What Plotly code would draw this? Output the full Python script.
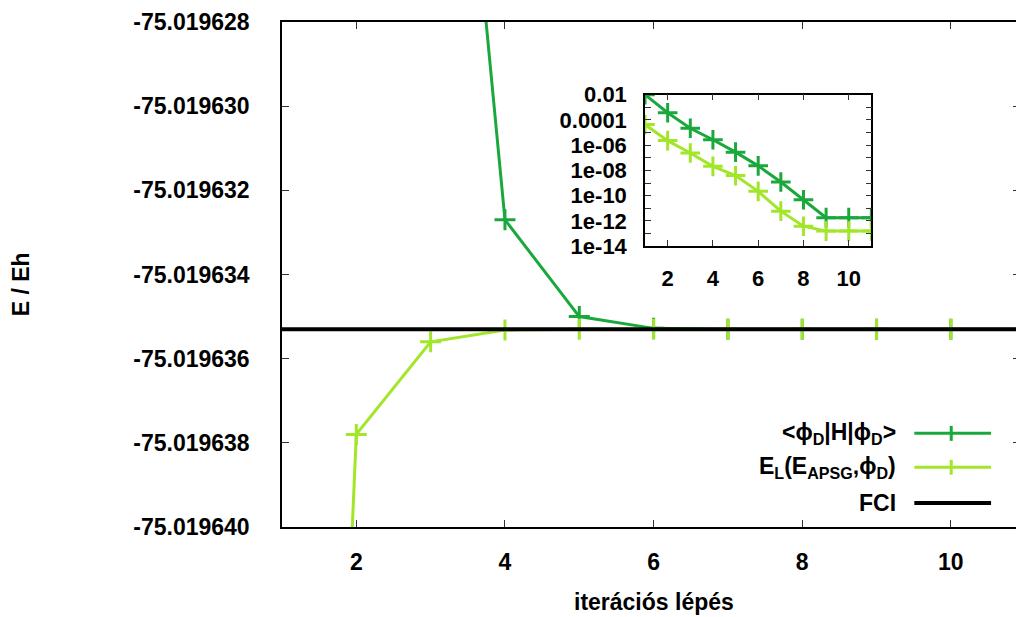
import plotly.graph_objects as go

# ---------------- data ----------------
iterations = [1, 2, 3, 4, 5, 6, 7, 8, 9, 10, 11]

# main panel: energies (Eh)
e_phiD = [-75.00964, -75.0192653, -75.0196142, -75.0196327, -75.0196350,
          -75.01963528, -75.0196353, -75.0196353, -75.0196353, -75.0196353, -75.0196353]
e_L = [-75.0196783, -75.0196378, -75.0196356, -75.01963532, -75.0196353,
       -75.0196353, -75.0196353, -75.0196353, -75.0196353, -75.0196353, -75.0196353]
fci_x = [1, 11]
fci_energy = [-75.0196353, -75.0196353]

# inset: absolute error relative to FCI (log scale)
err_phiD = [1e-2, 3.7e-4, 2.2e-5, 2.7e-6, 2.8e-7, 2.3e-8, 1.2e-9, 4.7e-11, 1.8e-12, 1.8e-12, 1.8e-12]
err_L = [4.3e-5, 2.3e-6, 2.4e-7, 2.1e-8, 3.9e-9, 2.2e-10, 5.9e-12, 3.8e-13, 1.55e-13, 1.55e-13, 1.55e-13]

y_tickvals = [-75.019640, -75.019638, -75.019636, -75.019634, -75.019632, -75.019630, -75.019628]
y_ticktext = ["-75.019640", "-75.019638", "-75.019636", "-75.019634", "-75.019632", "-75.019630", "-75.019628"]
x_tickvals = [2, 4, 6, 8, 10]
x_ticktext = ["2", "4", "6", "8", "10"]
inset_ytickvals = [1e-14, 1e-13, 1e-12, 1e-11, 1e-10, 1e-9, 1e-8, 1e-7, 1e-6, 1e-5, 1e-4, 1e-3, 1e-2]
inset_yticktext = ["1e-14", "", "1e-12", "", "1e-10", "", "1e-08", "", "1e-06", "", "0.0001", "", "0.01"]

legend_labels = ["&lt;ϕ<sub>D</sub>|H|ϕ<sub>D</sub>&gt;",
                 "E<sub>L</sub>(E<sub>APSG</sub>,ϕ<sub>D</sub>)",
                 "FCI"]

# ---------------- style ----------------
DARK = "#1aa83c"
LIGHT = "#a2e62a"
BLACK = "#000000"
FONT = "Liberation Sans, Arial, sans-serif"

fig = go.Figure()

fig.add_trace(go.Scatter(x=iterations, y=e_phiD, mode="lines+markers",
                         line=dict(color=DARK, width=3),
                         marker=dict(symbol="cross-thin", size=15, line=dict(color=DARK, width=3)),
                         cliponaxis=True, showlegend=False))
fig.add_trace(go.Scatter(x=iterations, y=e_L, mode="lines+markers",
                         line=dict(color=LIGHT, width=3),
                         marker=dict(symbol="cross-thin", size=15, line=dict(color=LIGHT, width=3)),
                         cliponaxis=True, showlegend=False))
fig.add_trace(go.Scatter(x=fci_x, y=fci_energy, mode="lines",
                         line=dict(color=BLACK, width=4), showlegend=False))

# inset
fig.add_trace(go.Scatter(x=iterations, y=err_phiD, mode="lines+markers", xaxis="x2", yaxis="y2",
                         line=dict(color=DARK, width=3),
                         marker=dict(symbol="cross-thin", size=14, line=dict(color=DARK, width=3)),
                         showlegend=False))
fig.add_trace(go.Scatter(x=iterations, y=err_L, mode="lines+markers", xaxis="x2", yaxis="y2",
                         line=dict(color=LIGHT, width=3),
                         marker=dict(symbol="cross-thin", size=14, line=dict(color=LIGHT, width=3)),
                         showlegend=False))

tickfont = dict(family=FONT, size=23, color="black", weight="bold")
inset_tickfont = dict(family=FONT, size=22, color="black", weight="bold")

# page body has an 8px margin -> figure is 1016x609 so the plot area sits at 282..1022 x 20..527
fig.update_layout(
    width=1016, height=609,
    margin=dict(l=274, r=2, t=12, b=90),
    paper_bgcolor="white", plot_bgcolor="white",
    font=dict(family=FONT, size=23, color="black", weight="bold"),
    xaxis=dict(range=[1, 10.93], tickvals=x_tickvals, ticktext=x_ticktext,
               ticks="inside", ticklen=7, tickwidth=1.2, tickcolor="#333",
               showline=True, linecolor="black", linewidth=1.5, mirror="ticks",
               showgrid=False, zeroline=False, tickfont=tickfont, ticklabelstandoff=14),
    yaxis=dict(range=[-75.019640, -75.019628], tickvals=y_tickvals, ticktext=y_ticktext,
               ticks="inside", ticklen=7, tickwidth=1.2, tickcolor="#333",
               showline=True, linecolor="black", linewidth=1.5, mirror="ticks",
               showgrid=False, zeroline=False, tickfont=tickfont, ticklabelstandoff=26),
    xaxis2=dict(domain=[0.4919, 0.7986], anchor="y2", range=[1, 11],
                tickvals=x_tickvals, ticktext=x_ticktext,
                ticks="inside", ticklen=6, tickwidth=1.2, tickcolor="#333",
                showline=True, linecolor="black", linewidth=1.5, mirror="ticks",
                showgrid=False, zeroline=False, tickfont=inset_tickfont, ticklabelstandoff=12),
    yaxis2=dict(domain=[0.5562, 0.856], anchor="x2", type="log", range=[-14, -2],
                tickvals=inset_ytickvals, ticktext=inset_yticktext,
                ticks="inside", ticklen=6, tickwidth=1.2, tickcolor="#333",
                showline=True, linecolor="black", linewidth=1.5, mirror="ticks",
                showgrid=False, zeroline=False, tickfont=inset_tickfont, ticklabelstandoff=12),
)

annotations = [
    dict(text="iterációs lépés", x=0.504, y=-0.148, xref="paper", yref="paper",
         showarrow=False, xanchor="center", yanchor="middle",
         font=dict(family=FONT, size=23, color="black", weight="bold")),
    dict(text="E / Eh", x=-0.354, y=0.48, xref="paper", yref="paper", textangle=-90,
         showarrow=False, xanchor="center", yanchor="middle",
         font=dict(family=FONT, size=23, color="black", weight="bold")),
]

# manual gnuplot-style key (text right-aligned, sample to the right)
key_y = [0.1854, 0.1183, 0.0473]
key_colors = [DARK, LIGHT, BLACK]
key_has_point = [True, True, False]
shapes = []
for lab, ky, col, pt in zip(legend_labels, key_y, key_colors, key_has_point):
    annotations.append(dict(text=lab, x=0.8351, y=ky, xref="paper", yref="paper",
                            showarrow=False, xanchor="right", yanchor="middle",
                            font=dict(family=FONT, size=23, color="black", weight="bold")))
    shapes.append(dict(type="line", xref="paper", yref="paper",
                       x0=0.8568, x1=0.9608, y0=ky, y1=ky,
                       line=dict(color=col, width=4 if col == BLACK else 3)))
    if pt:
        shapes.append(dict(type="line", xref="paper", yref="paper",
                           x0=0.9068, x1=0.9068, y0=ky - 0.0148, y1=ky + 0.0148,
                           line=dict(color=col, width=3)))

fig.update_layout(annotations=annotations, shapes=shapes)

fig.write_html("out.html")
